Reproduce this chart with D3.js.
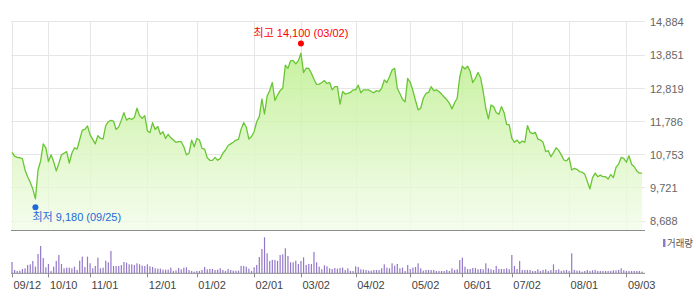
<!DOCTYPE html>
<html>
<head>
<meta charset="utf-8">
<script src="https://cdn.jsdelivr.net/npm/d3@7"></script>
<style>
  body { margin: 0; background: #fff; }
  svg { display: block; font-family: "Liberation Sans", "Noto Sans CJK KR", sans-serif; }
</style>
</head>
<body>
<svg id="chart" width="696" height="298"></svg>
<script>
// daily closes, one per trading day (09/12 ... 09/11)
const prices = [
  10810, 10690, 10650, 10640, 10610, 10260, 10050, 9880, 9670, 9360,
  10260, 10540, 11070, 10950, 10520, 10730, 10520, 10230, 10470, 10730,
  10780, 10830, 10470, 10780, 10950, 10910, 11200, 11500, 11520, 11630,
  11350, 11210, 11070, 11330, 11240, 11230, 11640, 11760, 11800, 11780,
  11520, 11600, 11810, 12040, 11810, 11870, 11830, 11890, 12180, 11950,
  11870, 11950, 11480, 11420, 11730, 11520, 11610, 11370, 11450, 11240,
  11370, 11260, 11190, 11120, 11140, 11140, 10980, 10730, 10780, 11190,
  10980, 11240, 11190, 10930, 10910, 10640, 10560, 10560, 10650, 10560,
  10620, 10780, 10880, 11020, 11070, 11120, 11190, 11210, 11530, 11730,
  11590, 11220, 11300, 11450, 11760, 11920, 12470, 12000, 12560, 12730,
  12980, 12420, 12590, 12730, 12800, 13520, 13420, 13660, 13660, 13560,
  13660, 13890, 13290, 13430, 13420, 13270, 13080, 12920, 12930, 12980,
  13040, 12950, 12980, 12750, 12850, 12850, 12310, 12700, 12620, 12640,
  12670, 12750, 12750, 12900, 12660, 12750, 12750, 12750, 12700, 12660,
  12730, 12700, 12800, 13060, 12980, 13160, 13370, 13420, 12800, 12640,
  12460, 12380, 13110, 12980, 12730, 12420, 12130, 12180, 12490, 12640,
  12670, 12850, 12730, 12750, 12700, 12620, 12530, 12450, 12340, 12160,
  12350, 12490, 13160, 13490, 13400, 13490, 13320, 12980, 13110, 13290,
  13130, 12700, 12180, 11850, 12280, 12230, 12050, 11990, 12230, 12050,
  11680, 11660, 11240, 11120, 11190, 11090, 11160, 11120, 11640, 11430,
  11390, 11430, 11220, 11190, 11120, 10830, 10860, 10670, 10800, 10950,
  10870, 10730, 10570, 10540, 10640, 10260, 10310, 10280, 10210, 10190,
  10130, 9900, 9670, 10020, 10160, 10050, 10100, 10050, 10050, 9980,
  10120, 10020, 10340, 10440, 10650, 10620, 10500, 10700, 10440, 10360,
  10230, 10160, 10160
];

// daily volume (x10,000 shares)
const volumes = [
  34, 10, 7, 8, 13, 15, 25, 27, 37, 20,
  58, 82, 46, 18, 28, 7, 20, 37, 55, 28,
  15, 17, 17, 15, 20, 10, 38, 50, 19, 50,
  30, 15, 22, 47, 15, 17, 38, 33, 67, 22,
  22, 22, 25, 34, 32, 27, 27, 25, 30, 27,
  23, 22, 27, 21, 19, 15, 14, 14, 11, 11,
  11, 17, 7, 9, 16, 12, 17, 18, 10, 7,
  5, 7, 7, 10, 19, 12, 13, 13, 10, 11,
  15, 10, 7, 13, 10, 8, 8, 8, 22, 22,
  20, 14, 7, 18, 25, 49, 73, 108, 60, 37,
  40, 40, 37, 55, 57, 75, 52, 33, 33, 38,
  28, 37, 48, 25, 28, 28, 64, 33, 20, 12,
  24, 21, 15, 13, 16, 14, 16, 17, 10, 15,
  7, 7, 21, 19, 12, 11, 10, 8, 8, 10,
  10, 10, 15, 27, 17, 15, 30, 23, 28, 15,
  17, 7, 25, 13, 17, 19, 30, 15, 8, 10,
  10, 10, 10, 7, 7, 7, 7, 10, 7, 15,
  10, 12, 40, 47, 20, 13, 13, 16, 16, 12,
  13, 12, 30, 15, 12, 10, 22, 13, 13, 13,
  15, 12, 55, 22, 13, 37, 10, 10, 10, 10,
  7, 7, 12, 7, 10, 12, 7, 10, 27, 10,
  12, 7, 9, 10, 7, 60, 10, 8, 8, 5,
  7, 10, 7, 9, 10, 7, 7, 7, 7, 7,
  7, 9, 9, 10, 15, 9, 7, 7, 7, 7,
  7, 7, 5
];

const tickIdx = [0, 14, 30, 52, 71, 93, 111, 132, 153, 173, 192, 214, 236];
const tickLabels = ["09/12", "10/10", "11/01", "12/01", "01/02", "02/01", "03/02",
  "04/02", "05/02", "06/01", "07/02", "08/01", "09/03"];
const yTicks = [8688, 9721, 10753, 11786, 12819, 13851, 14884];

const high = { idx: 111, value: 14100, label: "최고 14,100 (03/02)" };
const low = { idx: 9, value: 9180, label: "최저 9,180 (09/25)" };

const svg = d3.select("#chart");

const area = {
  gridL: 11, gridR: 645,
  plotL: 12, plotR: 642,
  top: 21.3, priceBot: 220.5, panelBot: 230.5,
  volBase: 273.3, volTop: 237.3,
};

const x = d3.scaleLinear().domain([0, prices.length - 1]).range([area.plotL, area.plotR]);
const y = d3.scaleLinear().domain([yTicks[0], yTicks[yTicks.length - 1]]).range([area.priceBot, area.top]);
const yv = d3.scaleLinear().domain([0, d3.max(volumes)]).range([area.volBase, area.volTop]);

// gradient for the area
const grad = svg.append("defs").append("linearGradient")
  .attr("id", "fillGrad")
  .attr("gradientUnits", "userSpaceOnUse")
  .attr("x1", 0).attr("x2", 0)
  .attr("y1", area.top).attr("y2", area.panelBot);
grad.append("stop").attr("offset", "0%").attr("stop-color", "#b3ec7c").attr("stop-opacity", 0.85);
grad.append("stop").attr("offset", "100%").attr("stop-color", "#f3fcea").attr("stop-opacity", 0.8);

// grid
const grid = svg.append("g").attr("stroke", "#e6e6e6").attr("stroke-width", 1);
grid.selectAll(".hg").data(yTicks).enter().append("line")
  .attr("x1", area.gridL).attr("x2", area.gridR)
  .attr("y1", (d) => Math.round(y(d)) + 0.5).attr("y2", (d) => Math.round(y(d)) + 0.5);
grid.selectAll(".vg").data(tickIdx).enter().append("line")
  .attr("x1", (d) => Math.round(x(d)) + 0.5).attr("x2", (d) => Math.round(x(d)) + 0.5)
  .attr("y1", area.top).attr("y2", area.panelBot);

// price area + line
const areaGen = d3.area()
  .x((d, i) => x(i))
  .y0(area.panelBot)
  .y1((d) => y(d));
svg.append("path")
  .datum(prices)
  .attr("d", areaGen)
  .attr("fill", "url(#fillGrad)");

const lineGen = d3.line().x((d, i) => x(i)).y((d) => y(d));
svg.append("path")
  .datum(prices)
  .attr("d", lineGen)
  .attr("fill", "none")
  .attr("stroke", "#68c634")
  .attr("stroke-width", 1.3)
  .attr("stroke-linejoin", "round");

// panel bottom line
svg.append("line")
  .attr("x1", area.gridL).attr("x2", area.gridR)
  .attr("y1", area.panelBot).attr("y2", area.panelBot)
  .attr("stroke", "#8c8c8c");

// y labels
svg.append("g").selectAll("text").data(yTicks).enter().append("text")
  .attr("x", 650)
  .attr("y", (d) => y(d) + 1)
  .attr("dy", "0.35em")
  .attr("font-size", 11)
  .attr("fill", "#666")
  .text((d) => d3.format(",")(d));

// high / low markers
svg.append("circle")
  .attr("cx", x(high.idx)).attr("cy", y(high.value) - 3)
  .attr("r", 3).attr("fill", "#f00");
svg.append("text")
  .attr("x", x(high.idx)).attr("y", y(high.value) - 9.5)
  .attr("text-anchor", "middle")
  .attr("font-size", 11)
  .attr("fill", "#f00")
  .text(high.label);

svg.append("circle")
  .attr("cx", x(low.idx)).attr("cy", y(low.value) + 2.6)
  .attr("r", 3).attr("fill", "#1d6ad8");
svg.append("text")
  .attr("x", x(low.idx) - 3).attr("y", y(low.value) + 16.5)
  .attr("font-size", 11)
  .attr("fill", "#1d6ad8")
  .text(low.label);

// volume bars
svg.append("g").selectAll("rect").data(volumes).enter().append("rect")
  .attr("x", (d, i) => x(i) - 0.6)
  .attr("y", (d) => yv(d))
  .attr("width", 1.2)
  .attr("height", (d) => area.volBase - yv(d))
  .attr("fill", "#9478c8");

// volume baseline + ticks
svg.append("line")
  .attr("x1", area.gridL).attr("x2", area.gridR)
  .attr("y1", area.volBase).attr("y2", area.volBase)
  .attr("stroke", "#8c8c8c");
svg.append("g").selectAll("line").data(tickIdx).enter().append("line")
  .attr("x1", (d) => Math.round(x(d)) + 0.5).attr("x2", (d) => Math.round(x(d)) + 0.5)
  .attr("y1", area.volBase).attr("y2", area.volBase + 4)
  .attr("stroke", "#8c8c8c");
svg.append("g").selectAll("text").data(tickIdx).enter().append("text")
  .attr("x", (d) => x(d) + 1.5)
  .attr("y", 289)
  .attr("font-size", 11)
  .attr("fill", "#444")
  .text((d, i) => tickLabels[i]);

// legend
svg.append("rect").attr("x", 663).attr("y", 239).attr("width", 2.5).attr("height", 8).attr("fill", "#9478c8");
svg.append("text").attr("x", 667).attr("y", 247)
  .attr("font-size", 10)
  .attr("textLength", 26).attr("lengthAdjust", "spacingAndGlyphs")
  .attr("fill", "#555").text("거래량");
</script>
</body>
</html>
